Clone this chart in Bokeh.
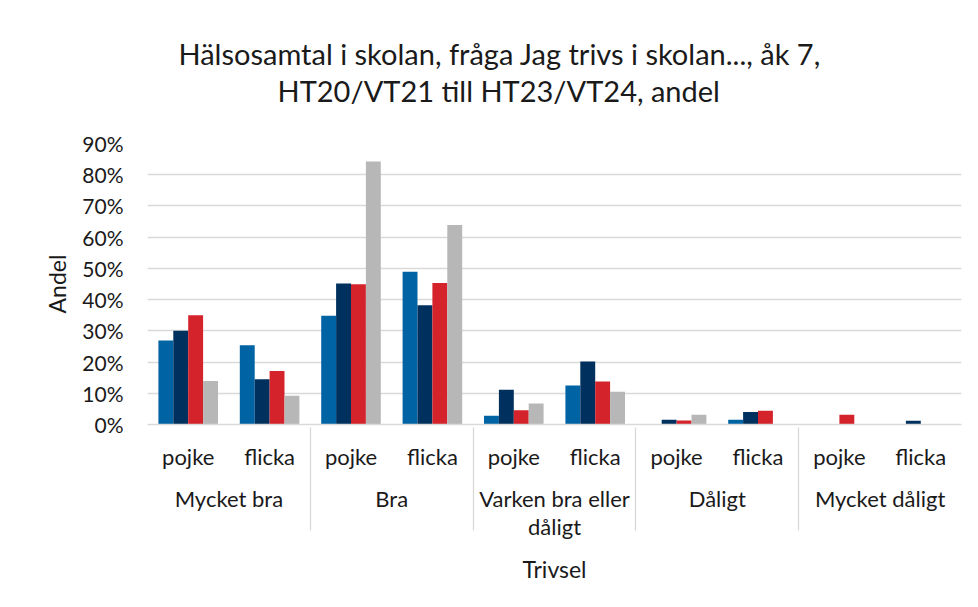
from bokeh.plotting import figure
from bokeh.models import (FactorRange, ColumnDataSource, NumeralTickFormatter, Range1d,
                          FixedTicker, Title)
from bokeh.transform import dodge
from bokeh.embed import file_html
from bokeh.resources import INLINE

groups = ["Mycket bra", "Bra", "Varken bra eller\ndåligt", "Dåligt", "Mycket dåligt"]
genders = ["pojke", "flicka"]
series_names = ["HT20/VT21", "HT21/VT22", "HT22/VT23", "HT23/VT24"]
# percent values, order: (group, gender) pairs
s1 = [26.9, 25.4, 34.8, 48.9, 2.8, 12.5, 0.0, 1.5, 0.0, 0.0]
s2 = [30.0, 14.5, 45.2, 38.2, 11.1, 20.2, 1.5, 4.0, 0.0, 1.2]
s3 = [35.0, 17.1, 44.9, 45.3, 4.6, 13.8, 1.3, 4.4, 3.1, 0.0]
s4 = [13.9, 9.2, 84.2, 63.9, 6.7, 10.5, 3.1, 0.0, 0.0, 0.0]
colors = ["#0064a4", "#00305e", "#d4232b", "#b7b7b7"]
y_ticks = [0.0, 0.1, 0.2, 0.3, 0.4, 0.5, 0.6, 0.7, 0.8, 0.9]
title_lines = ["Hälsosamtal i skolan, fråga Jag trivs i skolan..., åk 7,",
               "HT20/VT21 till HT23/VT24, andel"]

FONT = "Lato"
TXT = "#1a1a1a"

factors = [(g, s) for g in groups for s in genders]
data = {"x": factors}
for i, s in enumerate([s1, s2, s3, s4]):
    data[f"s{i}"] = [v / 100 for v in s]
source = ColumnDataSource(data)

x_range = FactorRange(*factors, group_padding=0, subgroup_padding=0, factor_padding=0,
                      range_padding=0)
p = figure(width=962, height=590, x_range=x_range, y_range=Range1d(0, 0.9),
           output_backend="svg", toolbar_location=None, title=None,
           min_border_left=147, min_border_right=1, min_border_top=143, min_border_bottom=166)

bw = 0.183
offsets = [-1.5 * bw, -0.5 * bw, 0.5 * bw, 1.5 * bw]
for i in range(4):
    p.vbar(x=dodge("x", offsets[i], range=p.x_range), top=f"s{i}", width=bw, source=source,
           fill_color=colors[i], line_color=None, legend_label=series_names[i])

p.legend.visible = False

p.outline_line_color = None
p.xgrid.grid_line_color = None
p.ygrid.grid_line_color = "#d9d9d9"
p.ygrid.grid_line_width = 1.3

p.yaxis.ticker = FixedTicker(ticks=y_ticks)
p.yaxis.formatter = NumeralTickFormatter(format="0%")
p.yaxis.axis_line_color = None
p.yaxis.major_tick_line_color = None
p.yaxis.minor_tick_line_color = None
p.yaxis.major_label_text_font = FONT
p.yaxis.major_label_text_font_size = "21px"
p.yaxis.major_label_text_color = TXT
p.yaxis.major_label_standoff = 18
p.yaxis.axis_label = "Andel"
p.yaxis.axis_label_text_font = FONT
p.yaxis.axis_label_text_font_size = "23px"
p.yaxis.axis_label_text_font_style = "normal"
p.yaxis.axis_label_text_color = TXT
p.yaxis.axis_label_standoff = 8

p.xaxis.axis_line_color = "#d9d9d9"
p.xaxis.axis_line_width = 1.3
p.xaxis.major_tick_line_color = None
p.xaxis.minor_tick_line_color = None
p.xaxis.major_label_text_font = FONT
p.xaxis.major_label_text_font_size = "22px"
p.xaxis.major_label_text_color = TXT
p.xaxis.major_label_standoff = 12
p.xaxis.group_text_font = FONT
p.xaxis.group_text_font_size = "22px"
p.xaxis.group_text_color = TXT
p.xaxis.group_text_font_style = "normal"
p.xaxis.group_text_line_height = 1.05
p.xaxis.separator_line_color = "#d9d9d9"
p.xaxis.separator_line_width = 1.3
p.xaxis.axis_label = "Trivsel"
p.xaxis.axis_label_text_font = FONT
p.xaxis.axis_label_text_font_size = "23px"
p.xaxis.axis_label_text_font_style = "normal"
p.xaxis.axis_label_text_color = TXT
p.xaxis.axis_label_standoff = 12

# spacer nearest the plot, then title line 2, then title line 1 on top
p.add_layout(Title(text=" ", text_font_size="1px", standoff=33), "above")
title_offsets = [31, 130]
for i in (1, 0):
    p.add_layout(Title(text=title_lines[i], align="left", offset=title_offsets[i],
                       standoff=0, text_font=FONT,
                       text_font_size="29px", text_color=TXT, text_font_style="normal"),
                 "above")

open("out.html", "w").write(file_html(p, INLINE))
